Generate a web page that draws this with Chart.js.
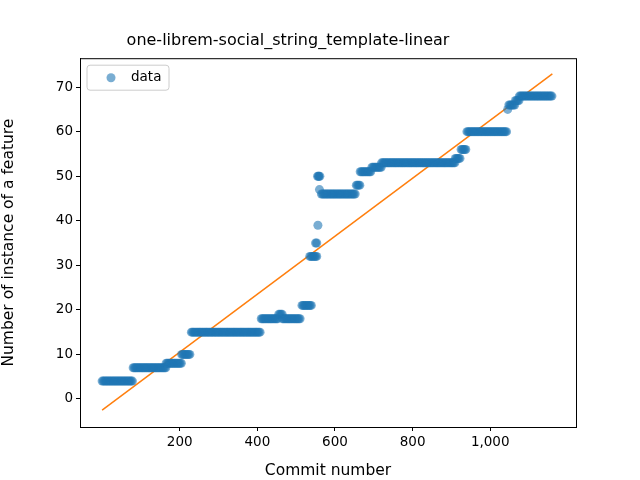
<!DOCTYPE html>
<html><head><meta charset="utf-8">
<script src="https://cdn.jsdelivr.net/npm/chart.js@4/dist/chart.umd.min.js"></script>
<style>html,body{margin:0;background:#fff}#wrap{width:640px;height:480px}</style>
</head><body><div id="wrap"><canvas id="c"></canvas></div>
<script>
// step runs: commit range [start, end) and value
const runStarts = [0, 80, 165, 205, 230, 410, 455, 465, 515, 535, 555, 565, 655, 665, 695, 720, 910, 925, 940, 1048, 1065, 1075];
const runEnds   = [80, 165, 205, 228, 410, 455, 465, 512, 540, 555, 563, 655, 665, 695, 720, 910, 925, 940, 1045, 1065, 1075, 1161];
const runValues = [4, 7, 8, 10, 15, 18, 19, 18, 21, 32, 50, 46, 48, 51, 52, 53, 54, 56, 60, 66, 67, 68];
// a few odd commits
const extraX = [550, 553, 556, 558, 560, 1045];
const extraY = [35, 35, 39, 50, 47, 65];
// fitted line endpoints
const fitX = [0, 1160];
const fitY = [-2.5, 73];

const pts = [];
runStarts.forEach((s, i) => {
  for (let x = s; x < runEnds[i]; x += 3) pts.push({x: x, y: runValues[i]});
});
extraX.forEach((x, i) => pts.push({x: x, y: extraY[i]}));

const blue = 'rgba(31,119,180,0.6)';
const frame = {
  id: 'frame',
  afterDraw(chart) {
    const a = chart.chartArea, ctx = chart.ctx;
    ctx.save();
    ctx.strokeStyle = '#000'; ctx.lineWidth = 1;
    ctx.strokeRect(a.left + 0.5, a.top + 0.5, a.right - a.left, a.bottom - a.top);
    // legend
    const lx = a.left + 7, ly = a.top + 7;
    ctx.strokeStyle = '#ccc'; ctx.fillStyle = 'rgba(255,255,255,0.8)';
    ctx.beginPath(); ctx.roundRect(lx, ly, 82, 25, 3); ctx.fill(); ctx.stroke();
    ctx.fillStyle = blue;
    ctx.beginPath(); ctx.arc(lx + 24, ly + 12.5, 4.5, 0, Math.PI * 2); ctx.fill();
    ctx.fillStyle = '#000'; ctx.font = '13.5px "DejaVu Sans"'; ctx.textBaseline = 'middle';
    ctx.fillText('data', lx + 44, ly + 12.5);
    ctx.restore();
  }
};
const keepSteps = step => s => { s.ticks = s.ticks.filter(t => Math.abs(t.value / step - Math.round(t.value / step)) < 1e-6); };
const tickFont = {family: 'DejaVu Sans', size: 13.5};

new Chart(document.getElementById('c'), {
  type: 'scatter',
  data: {
    datasets: [{
      label: 'data', data: pts, backgroundColor: blue, borderWidth: 0, pointRadius: 4.5
    }, {
      label: 'fit', type: 'line', data: fitX.map((x, i) => ({x: x, y: fitY[i]})),
      borderColor: '#ff7f0e', borderWidth: 1.5, pointRadius: 0
    }]
  },
  options: {
    responsive: true, maintainAspectRatio: false, animation: false,
    layout: {padding: {right: 64, left: 0, bottom: 0}},
    scales: {
      x: {
        type: 'linear', min: -57, max: 1221,
        ticks: {stepSize: 200, color: '#000', font: tickFont},
        afterBuildTicks: keepSteps(200),
        grid: {drawOnChartArea: false, tickLength: 4, color: '#000'},
        border: {color: '#000'},
        title: {display: true, text: 'Commit number', color: '#000', font: {family: 'DejaVu Sans', size: 15.5}, padding: 0},
        afterFit(s) { s.height = 53; }
      },
      y: {
        min: -6.3, max: 76.5,
        ticks: {stepSize: 10, color: '#000', font: tickFont},
        afterBuildTicks: keepSteps(10),
        grid: {drawOnChartArea: false, tickLength: 4, color: '#000'},
        border: {color: '#000'},
        title: {display: true, text: 'Number of instance of a feature', color: '#000', font: {family: 'DejaVu Sans', size: 15.5}, padding: 0},
        afterFit(s) { s.width = 80; }
      }
    },
    plugins: {
      legend: {display: false},
      tooltip: {enabled: false},
      title: {display: true, text: 'one-librem-social_string_template-linear', color: '#000',
        font: {family: 'DejaVu Sans', size: 16, weight: 'normal'}, padding: {top: 31, bottom: 8}}
    }
  },
  plugins: [frame]
});
</script></body></html>
